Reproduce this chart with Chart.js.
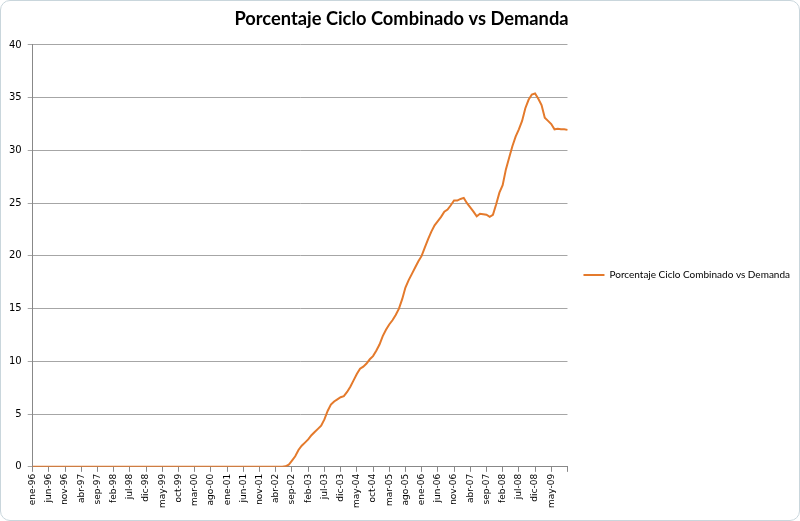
<!DOCTYPE html>
<html>
<head>
<meta charset="utf-8">
<script src="https://cdn.jsdelivr.net/npm/chart.js@4/dist/chart.umd.min.js"></script>
<style>
  html, body { margin: 0; padding: 0; background: #fff; }
  #wrap { position: relative; width: 800px; height: 521px; }
  #marco { position: absolute; left: 0; top: 0; width: 798px; height: 519px; border: 1px solid #c9d6dc; border-radius: 10px; pointer-events: none; }
</style>
</head>
<body>
<div id="wrap"><canvas id="grafico" width="800" height="521"></canvas><div id="marco"></div></div>
<script>
// meses y años del eje x (ene-96 .. oct-09)
const meses = ["ene", "feb", "mar", "abr", "may", "jun", "jul", "ago", "sep", "oct", "nov", "dic"];
const anios = ["96", "97", "98", "99", "00", "01", "02", "03", "04", "05", "06", "07", "08", "09"];
const ultimoMes = 9; // oct-09

// porcentaje ciclo combinado vs demanda, una fila por año
const v1996 = [0, 0, 0, 0, 0, 0, 0, 0, 0, 0, 0, 0];
const v1997 = [0, 0, 0, 0, 0, 0, 0, 0, 0, 0, 0, 0];
const v1998 = [0, 0, 0, 0, 0, 0, 0, 0, 0, 0, 0, 0];
const v1999 = [0, 0, 0, 0, 0, 0, 0, 0, 0, 0, 0, 0];
const v2000 = [0, 0, 0, 0, 0, 0, 0, 0, 0, 0, 0, 0];
const v2001 = [0, 0, 0, 0, 0, 0, 0, 0, 0, 0, 0, 0];
const v2002 = [0, 0, 0, 0, 0, 0, 0.05, 0.2, 0.6, 1.0, 1.6, 2.0];
const v2003 = [2.3, 2.6, 3.0, 3.3, 3.6, 3.9, 4.5, 5.3, 5.9, 6.2, 6.4, 6.6];
const v2004 = [6.7, 7.1, 7.6, 8.2, 8.8, 9.3, 9.5, 9.8, 10.2, 10.5, 11.0, 11.6];
const v2005 = [12.4, 13.0, 13.5, 13.9, 14.4, 15.0, 15.9, 17.0, 17.7, 18.3, 18.9, 19.5];
const v2006 = [20.0, 20.8, 21.6, 22.3, 22.9, 23.3, 23.7, 24.2, 24.4, 24.8, 25.25, 25.25];
const v2007 = [25.4, 25.5, 25.0, 24.6, 24.2, 23.75, 24.0, 23.95, 23.9, 23.7, 23.9, 24.9];
const v2008 = [26.0, 26.7, 28.2, 29.3, 30.4, 31.3, 32.0, 32.8, 34.0, 34.8, 35.3, 35.4];
const v2009 = [34.9, 34.3, 33.1, 32.8, 32.5, 32.0, 32.05, 32.0, 32.0, 31.95];

const valores = [].concat(v1996, v1997, v1998, v1999, v2000, v2001, v2002,
    v2003, v2004, v2005, v2006, v2007, v2008, v2009);

const etiquetas = [];
anios.forEach((a, n) => {
    meses.forEach((m, k) => {
        if (n === anios.length - 1 && k > ultimoMes) {
            return;
        }
        etiquetas.push(m + "-" + a);
    });
});

const serie = "Porcentaje Ciclo Combinado vs Demanda";
const naranja = "#e47a2c";
const gris = "#a6a6a6";

new Chart(document.getElementById("grafico"), {
    type: "line",
    data: {
        labels: etiquetas,
        datasets: [{
            label: serie,
            data: valores,
            borderColor: naranja,
            backgroundColor: naranja,
            borderWidth: 2,
            pointRadius: 0,
            fill: false,
            tension: 0
        }]
    },
    options: {
        responsive: false,
        animation: false,
        layout: { padding: { left: 3, right: 0, top: 0, bottom: 11 } },
        plugins: {
            title: {
                display: true,
                text: serie,
                color: "#000",
                font: { family: "Lato", size: 18.3, weight: "bold" },
                padding: { top: 8, bottom: 15 }
            },
            legend: {
                position: "right",
                maxWidth: 260,
                title: { display: true, text: "", font: { size: 10 }, padding: { top: 28, bottom: 0 } },
                labels: {
                    usePointStyle: true,
                    pointStyle: "line",
                    pointStyleWidth: 21,
                    color: "#000",
                    font: { family: "Lato", size: 10 },
                    padding: 16
                }
            },
            tooltip: { enabled: false }
        },
        scales: {
            x: {
                ticks: {
                    autoSkip: false,
                    maxRotation: 90,
                    minRotation: 90,
                    color: "#000",
                    font: { family: "DejaVu Sans", size: 9 },
                    padding: 2,
                    // marca cada 5 meses; el último (oct-09) sin texto
                    callback: (v, i) => (i % 5 === 0 && i < etiquetas.length - 1 ? etiquetas[i] : "")
                },
                grid: {
                    drawOnChartArea: false,
                    drawTicks: true,
                    tickLength: 5,
                    color: ctx => (ctx.index % 5 === 0 ? "#888" : "rgba(0,0,0,0)")
                },
                border: { color: "#888" }
            },
            y: {
                min: 0,
                max: 40,
                ticks: {
                    stepSize: 5,
                    color: "#000",
                    font: { family: "DejaVu Sans", size: 10 },
                    padding: 6
                },
                grid: { color: gris, tickLength: 5, lineWidth: 1 },
                border: { color: "#888" }
            }
        }
    }
});
</script>
</body>
</html>
